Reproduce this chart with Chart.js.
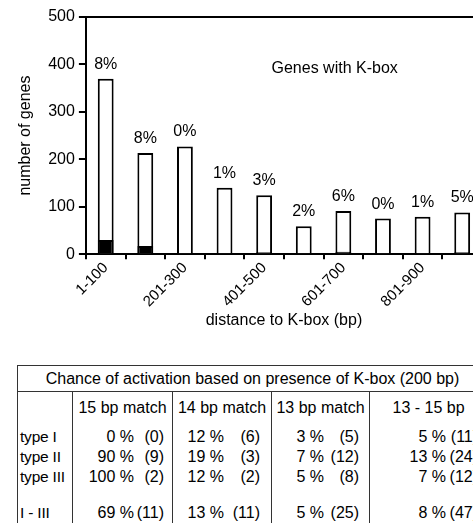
<!DOCTYPE html>
<html>
<head>
<meta charset="utf-8">
<script src="https://cdn.jsdelivr.net/npm/chart.js@4.4.0/dist/chart.umd.min.js"></script>
<style>
html, body { margin: 0; padding: 0; background: #fff; overflow: hidden; width: 473px; height: 524px; }
#wrap { position: absolute; left: 0; top: 0; width: 486px; height: 332px; }
table.kbox { position: absolute; left: 17px; top: 365px; width: 470px; border-collapse: collapse; table-layout: fixed;
  font-family: "Liberation Sans", Arial, sans-serif; font-size: 16px; color: #000; }
table.kbox td { border-left: 1px solid #333; border-right: 1px solid #333; padding: 0; line-height: 20px; white-space: nowrap; overflow: hidden; }
table.kbox tr.title td { border: 1px solid #333; height: 25px; line-height: 25px; text-align: center; }
table.kbox tr.head td { padding: 6px 0 9px; text-align: center; }
table.kbox tr.total td { padding-top: 16px; }
table.kbox td.rh { padding-left: 2px; text-align: left; font-size: 15.5px; letter-spacing: -0.2px; }
table.kbox td.v { text-align: right; }
table.kbox span { display: inline-block; text-align: right; }
</style>
</head>
<body>
<div id="wrap"><canvas id="chartKbox" width="486" height="332"></canvas></div>
<table class="kbox" id="tabla">
  <colgroup><col style="width:55px"><col style="width:100px"><col style="width:99px"><col style="width:98px"><col style="width:118px"></colgroup>
</table>
<script>
// distancia al K-box y número de genes
const categories     = ['1-100','101-200','201-300','301-400','401-500','501-600','601-700','701-800','801-900','901-1000'];
const totalGenes     = [370, 213, 227, 140, 124, 59, 91, 75, 79, 88];
const activatedGenes = [30, 17, 0, 1, 4, 1, 5, 0, 1, 4];
const pctLabels      = ['8%','8%','0%','1%','3%','2%','6%','0%','1%','5%'];

// tabla: chance of activation
const tableTitle  = 'Chance of activation based on presence of K-box (200 bp)';
const matchCols   = ['15 bp match','14 bp match','13 bp match','13 - 15 bp'];
const typeRows    = ['type I','type II','type III','I - III'];
const pctValues   = [[0, 12, 3, 5], [90, 19, 7, 13], [100, 12, 5, 7], [69, 13, 5, 8]];
const countValues = [[0, 6, 5, 11], [9, 3, 12, 24], [2, 2, 8, 12], [11, 11, 25, 47]];

const FONT = '"Liberation Sans", Arial, sans-serif';

// ── tabla ──
(function buildTable() {
    const t = document.getElementById('tabla');
    const pctW = [[61, 30, 8], [51, 36, 11], [52, 35, 10], [76, 32, 9]]; // ancho pct, ancho count, padding der.
    let html = '<tr class="title"><td colspan="5">' + tableTitle + '</td></tr>';
    html += '<tr class="head"><td></td>' + matchCols.map(c => '<td>' + c + '</td>').join('') + '</tr>';
    typeRows.forEach((r, i) => {
        html += '<tr' + (i === 3 ? ' class="total"' : '') + '><td class="rh">' + r + '</td>';
        for (let j = 0; j < 4; j++) {
            const w = pctW[j];
            html += '<td class="v" style="padding-right:' + w[2] + 'px"><span style="width:' + w[0] + 'px">' +
                pctValues[i][j] + ' %</span><span style="width:' + w[1] + 'px">(' + countValues[i][j] + ')</span></td>';
        }
        html += '</tr>';
    });
    t.insertAdjacentHTML('beforeend', html);
})();

// ── Plugin: porcentajes sobre barras + marco ──
const barLabels = {
    id: 'barLabels',
    afterDatasetsDraw(chart) {
        const ctx = chart.ctx;
        const a = chart.chartArea;
        const meta = chart.getDatasetMeta(1);
        ctx.save();
        ctx.strokeStyle = '#000';
        ctx.lineWidth = 2;
        ctx.beginPath();
        ctx.moveTo(a.left, a.top);
        ctx.lineTo(a.right, a.top);
        ctx.lineTo(a.right, a.bottom);
        ctx.stroke();
        ctx.font = '16px ' + FONT;
        ctx.fillStyle = '#000';
        ctx.textAlign = 'center';
        ctx.textBaseline = 'alphabetic';
        meta.data.forEach((bar, i) => ctx.fillText(pctLabels[i], bar.x, bar.y - 10));
        ctx.textBaseline = 'middle';
        ctx.fillText('Genes with K-box', a.left + (a.right - a.left) * 0.628, a.top + (a.bottom - a.top) * 0.216);
        ctx.restore();
    }
};

new Chart(document.getElementById('chartKbox').getContext('2d'), {
    type: 'bar',
    data: {
        labels: categories,
        datasets: [
            {
                label: 'activated',
                data: activatedGenes,
                backgroundColor: '#000',
                borderColor: '#000',
                borderWidth: 2,
                grouped: false,
                barPercentage: 0.4,
                categoryPercentage: 1
            },
            {
                label: 'genes',
                data: totalGenes,
                backgroundColor: '#fff',
                borderColor: '#000',
                borderWidth: 2,
                grouped: false,
                barPercentage: 0.4,
                categoryPercentage: 1
            }
        ]
    },
    options: {
        responsive: false,
        animation: false,
        layout: { padding: { top: 17, left: 14, right: 4, bottom: 2 } },
        plugins: { legend: { display: false }, tooltip: { enabled: false } },
        scales: {
            x: {
                grid: { display: true, drawOnChartArea: false, drawTicks: true, tickLength: 5, color: '#000', lineWidth: 2 },
                border: { color: '#000', width: 2 },
                ticks: {
                    autoSkip: false, minRotation: 45, maxRotation: 45, padding: 0,
                    color: '#000', font: { family: FONT, size: 15 },
                    callback: function(v, i) { return i % 2 === 0 ? categories[i] : ''; }
                },
                title: { display: true, text: 'distance to K-box (bp)', color: '#000', font: { family: FONT, size: 16 }, padding: { top: 0, bottom: 0 } }
            },
            y: {
                min: 0, max: 500,
                grid: { display: true, drawOnChartArea: false, drawTicks: true, tickLength: 7, color: '#000', lineWidth: 2 },
                border: { color: '#000', width: 2 },
                ticks: { stepSize: 100, padding: 4, color: '#000', font: { family: FONT, size: 16 } },
                title: { display: true, text: 'number of genes', color: '#000', font: { family: FONT, size: 16 }, padding: { top: 2, bottom: 9 } }
            }
        }
    },
    plugins: [barLabels]
});
</script>
</body>
</html>
